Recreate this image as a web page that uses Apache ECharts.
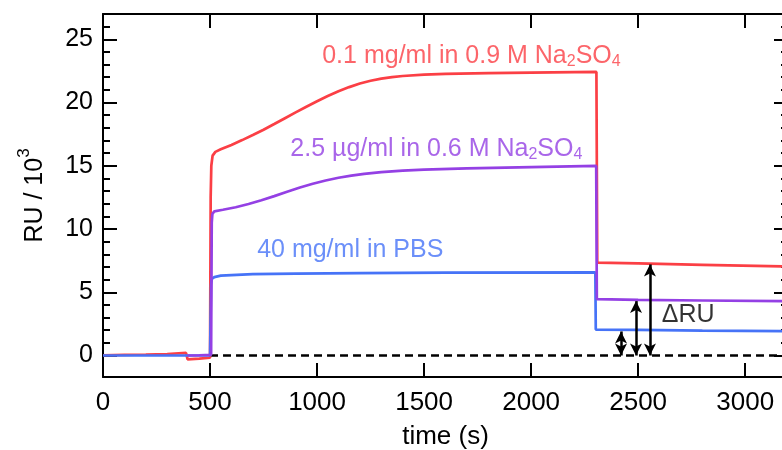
<!DOCTYPE html>
<html>
<head>
<meta charset="utf-8">
<script src="https://cdn.jsdelivr.net/npm/echarts@6/dist/echarts.min.js"></script>
<style>
  html, body { margin: 0; padding: 0; background: #fff; }
  #chart { width: 782px; height: 450px; }
</style>
</head>
<body>
<div id="chart"></div>
<script>
// Sensorgram traces: [time (s), RU / 10^3]
const redTrace = [
  [0, 0.02], [100, 0.05], [200, 0.08], [300, 0.12], [388, 0.2], [395, -0.3],
  [450, -0.25], [500, -0.18], [503, 12.5], [506, 15.0], [512, 15.8], [525, 16.1],
  [550, 16.3], [600, 16.65], [650, 17.03], [700, 17.43], [750, 17.85], [800, 18.3],
  [850, 18.76], [900, 19.22], [950, 19.67], [1000, 20.1], [1050, 20.52], [1100, 20.9],
  [1150, 21.22], [1200, 21.5], [1250, 21.72], [1300, 21.89], [1350, 22.01], [1400, 22.1],
  [1500, 22.2], [1600, 22.27], [1800, 22.33], [2000, 22.37], [2305, 22.42], [2309, 7.35],
  [2500, 7.28], [2800, 7.17], [3200, 7.03]
];
const purpleTrace = [
  [395, 0.0], [450, 0.02], [505, 0.05], [508, 10.5], [511, 11.2], [520, 11.4],
  [560, 11.52], [620, 11.72], [680, 11.98], [740, 12.28], [800, 12.6], [860, 12.94],
  [920, 13.28], [980, 13.58], [1040, 13.84], [1100, 14.05], [1160, 14.22], [1220, 14.36],
  [1300, 14.5], [1400, 14.61], [1500, 14.69], [1700, 14.8], [2000, 14.9],
  [2304, 15.0], [2307, 4.45], [2500, 4.4], [2800, 4.35], [3200, 4.29]
];
const blueTrace = [
  [0, 0], [200, 0], [400, 0], [500, 0], [503, 0.1], [505, 5.6], [508, 6.05],
  [520, 6.2], [550, 6.32], [700, 6.43], [900, 6.48], [1200, 6.52], [1600, 6.55],
  [2300, 6.57], [2302, 2.05], [2500, 2.02], [2800, 1.97], [3200, 1.92]
];
// Zero reference after injection
const zeroLine = [[500, 0], [3200, 0]];
// Double arrows marking the retained response
const deltaX = [2420, 2490, 2555];
const deltaTop = [1.9, 4.3, 7.2];

const xTicks = [0, 500, 1000, 1500, 2000, 2500, 3000];
const yTicks = [0, 5, 10, 15, 20, 25];
const yMinorTicks = [1, 2, 3, 4, 6, 7, 8, 9, 11, 12, 13, 14, 16, 17, 18, 19, 21, 22, 23, 24, 26];

const FONT = 'Liberation Sans, Arial, Helvetica, sans-serif';
const RED = '#fb3f45';
const PURPLE = '#9440e4';
const BLUE = '#4673f7';

const X_MIN = 0, X_MAX = 3200, Y_MIN = -1.7, Y_MAX = 27;

function xAxisDef(position, showLabels) {
  return {
    type: 'value', position, min: X_MIN, max: X_MAX,
    axisLine: { show: true, onZero: false, lineStyle: { color: '#000', width: 2 } },
    axisTick: { show: true, inside: true, length: 14, customValues: xTicks, lineStyle: { color: '#000', width: 2 } },
    axisLabel: showLabels
      ? { show: true, customValues: xTicks, margin: 13, color: '#000', fontSize: 26, fontFamily: FONT,
          formatter: v => String(v) }
      : { show: false },
    splitLine: { show: false },
    name: showLabels ? 'time (s)' : '',
    nameLocation: 'middle', nameGap: 47,
    nameTextStyle: { color: '#000', fontSize: 26, fontFamily: FONT }
  };
}

function yAxisDef(position, ticks, len, showLabels, showLine) {
  return {
    type: 'value', position, min: Y_MIN, max: Y_MAX,
    axisLine: { show: showLine, onZero: false, lineStyle: { color: '#000', width: 2 } },
    axisTick: { show: true, inside: true, length: len, customValues: ticks, lineStyle: { color: '#000', width: 2 } },
    axisLabel: showLabels
      ? { show: true, customValues: ticks, margin: 10, color: '#000', fontSize: 25, fontFamily: FONT,
          formatter: v => String(v) }
      : { show: false },
    splitLine: { show: false },
    name: showLabels ? '{t|RU / 10}{sup|3}' : '',
    nameLocation: 'middle', nameGap: 48,
    nameTextStyle: {
      rich: {
        t: { color: '#000', fontSize: 25, fontFamily: FONT },
        sup: { color: '#000', fontSize: 17, fontFamily: FONT, padding: [0, 0, 22, 0] }
      }
    }
  };
}

function traceSeries(name, data, color) {
  return {
    name, type: 'line', data, showSymbol: false, symbol: 'none',
    lineStyle: { color, width: 2.7 }, silent: true
  };
}

function labelSeries(point, text, rich) {
  return {
    type: 'scatter', data: [point], symbolSize: 0, silent: true,
    label: { show: true, position: 'right', distance: 0, formatter: text, rich }
  };
}

function formulaRich(color) {
  return {
    m: { color, fontSize: 25, fontFamily: FONT },
    s: { color, fontSize: 16, fontFamily: FONT, padding: [12, 0, 0, 0] }
  };
}

const chart = echarts.init(document.getElementById('chart'), null, { renderer: 'canvas' });
chart.setOption({
  animation: false,
  backgroundColor: '#fff',
  grid: { left: 103, top: 14, width: 685, height: 363, containLabel: false, outerBoundsMode: 'none' },
  xAxis: [xAxisDef('bottom', true), xAxisDef('top', false)],
  yAxis: [
    yAxisDef('left', yTicks, 14, true, true),
    yAxisDef('right', yTicks, 14, false, true),
    yAxisDef('left', yMinorTicks, 7, false, false),
    yAxisDef('right', yMinorTicks, 7, false, false)
  ],
  series: [
    {
      type: 'line', data: zeroLine, showSymbol: false, symbol: 'none', silent: true,
      lineStyle: { color: '#000', width: 2.6, type: [8, 5] },
      markLine: {
        silent: true, symbol: ['arrow', 'arrow'], symbolSize: [9, 12],
        lineStyle: { color: '#000', width: 2.5, type: 'solid' },
        label: { show: false },
        data: deltaX.map((x, i) => [{ coord: [x, 0] }, { coord: [x, deltaTop[i]] }])
      }
    },
    traceSeries('0.1 mg/ml', redTrace, RED),
    traceSeries('40 mg/ml', blueTrace, BLUE),
    traceSeries('2.5 µg/ml', purpleTrace, PURPLE),
    labelSeries([1024, 23.7], '{m|0.1 mg/ml in 0.9 M Na}{s|2}{m|SO}{s|4}', formulaRich(RED)),
    labelSeries([875, 16.35], '{m|2.5 µg/ml in 0.6 M Na}{s|2}{m|SO}{s|4}', formulaRich(PURPLE)),
    labelSeries([720, 8.3], '{m|40 mg/ml in PBS}', formulaRich(BLUE)),
    labelSeries([2610, 3.16], '{m|ΔRU}', formulaRich('#000'))
  ]
});
</script>
</body>
</html>
